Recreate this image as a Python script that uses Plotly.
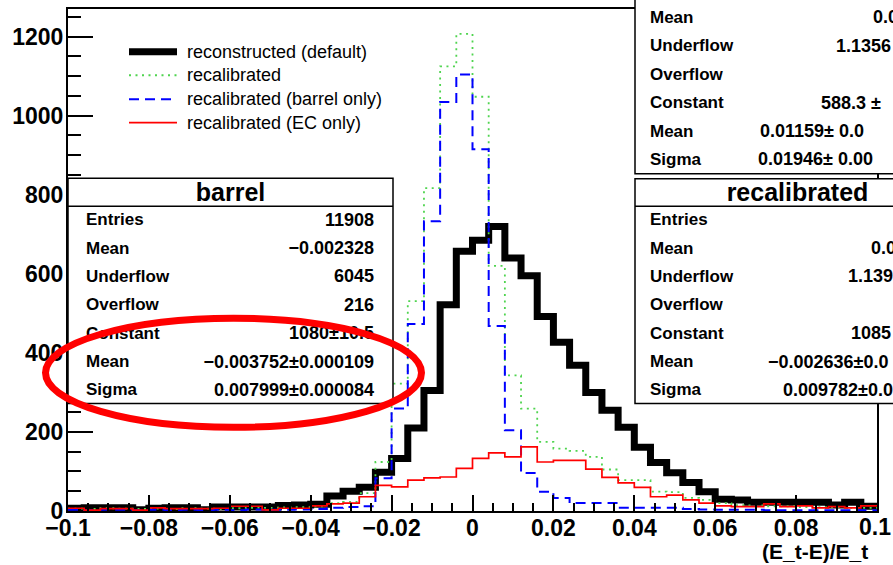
import numpy as np
import plotly.graph_objects as go

# ---------------- data ----------------
bin_low, bin_high, n_bins = -0.1, 0.1, 50

reconstructed = [7, 8, 8, 8, 3, 7, 8, 8, 3, 10,
                 10, 10, 10, 14, 15, 17, 38, 50, 60, 98,
                 133, 210, 305, 522, 657, 685, 720, 640, 595, 492,
                 427, 369, 300, 255, 212, 161, 123, 97, 72, 49,
                 30, 28, 22, 22, 22, 22, 22, 15, 22, 12]
recalibrated = [6, 5, 7, 6, 5, 6, 5, 7, 6, 5,
                7, 8, 8, 9, 10, 12, 20, 23, 45, 124,
                322, 531, 817, 1125, 1207, 1048, 620, 343, 259, 175,
                158, 152, 137, 105, 78, 78, 49, 48, 33, 28,
                20, 15, 14, 12, 12, 10, 10, 9, 8, 8]
recal_barrel = [3, 2, 3, 3, 2, 3, 2, 3, 2, 3,
                2, 4, 3, 3, 4, 5, 8, 10, 12, 83,
                259, 473, 733, 1035, 1104, 915, 468, 204, 96, 49,
                33, 20, 20, 20, 8, 8, 8, 8, 5, 4,
                3, 3, 3, 2, 2, 2, 2, 2, 2, 2]
recal_ec = [7, 2, 6, 6, 2, 8, 6, 6, 6, 7,
            12, 12, 3, 7, 7, 13, 18, 20, 36, 65,
            61, 78, 84, 86, 108, 133, 147, 137, 162, 124,
            128, 128, 106, 85, 71, 60, 36, 40, 28, 20,
            13, 11, 11, 18, 11, 13, 8, 11, 8, 13]

series_names = ["reconstructed (default)", "recalibrated",
                "recalibrated (barrel only)", "recalibrated (EC only)"]

x_tickvals = [-0.1, -0.08, -0.06, -0.04, -0.02, 0, 0.02, 0.04, 0.06, 0.08, 0.1]
x_ticktext = ["\u22120.1", "\u22120.08", "\u22120.06", "\u22120.04", "\u22120.02",
              "0", "0.02", "0.04", "0.06", "0.08", "0.1"]

stat_labels = ["Entries", "Mean", "Underflow", "Overflow", "Constant", "Mean", "Sigma"]
barrel_values = ["11908", "\u22120.002328", "6045", "216", "1080\u00b110.5",
                 "\u22120.003752\u00b10.000109", "0.007999\u00b10.000084"]
# only the parts of these boxes that are visible inside the canvas
recal_values = ["", "0.0", "1.139", "", "1085", "\u22120.002636\u00b10.0", "0.009782\u00b10.0"]
default_values = ["", "0.0", "1.1356", "", "588.3 \u00b1", "0.01159\u00b1 0.0", "0.01946\u00b1 0.00"]

x_title = "(E_t-E)/E_t"

# ---------------- geometry helpers ----------------
W, H = 893, 565
L, R, T, B = 68, 877, 7, 511


def fx(p):
    return (p - L) / (R - L)


def fy(p):
    return (B - p) / (B - T)


FONT = "Liberation Sans"
TICKFONT = dict(family=FONT, size=23, color="black", weight="bold")
edges = np.linspace(bin_low, bin_high, n_bins + 1)

fig = go.Figure()
styles = [
    dict(color="black", width=7, dash="solid"),
    dict(color="#4fd44f", width=1.8, dash="2px,4.5px"),
    dict(color="#0000ff", width=2, dash="10px,6px"),
    dict(color="#ff0000", width=1.7, dash="solid"),
]
for vals, st, nm in zip([reconstructed, recalibrated, recal_barrel, recal_ec], styles, series_names):
    fig.add_trace(go.Scatter(
        x=list(edges), y=list(vals) + [vals[-1]], mode="lines", name=nm,
        line=dict(shape="hv", **st), showlegend=False, hoverinfo="skip"))

shapes = []
annotations = []

# ---- legend (manual) ----
leg_rows = [50, 73.5, 97.7, 121]
for nm, st, yy in zip(series_names, styles, leg_rows):
    shapes.append(dict(type="line", xref="paper", yref="paper",
                       x0=fx(129), x1=fx(177), y0=fy(yy), y1=fy(yy),
                       line=dict(color=st["color"], width=st["width"], dash=st["dash"]),
                       layer="above"))
    annotations.append(dict(x=fx(185), y=fy(yy), xref="paper", yref="paper",
                            text=nm, showarrow=False, xanchor="left", yanchor="middle",
                            font=dict(family=FONT, size=18, color="black")))


def box(x0, y0, x1, y1):
    shapes.append(dict(type="rect", xref="paper", yref="paper",
                       x0=fx(x0), x1=fx(x1), y0=fy(y1), y1=fy(y0),
                       line=dict(color="black", width=1.5), fillcolor="white", layer="above"))


def hline(x0, x1, y):
    shapes.append(dict(type="line", xref="paper", yref="paper",
                       x0=fx(x0), x1=fx(x1), y0=fy(y), y1=fy(y),
                       line=dict(color="black", width=1.5), layer="above"))


LAB_DY = -2.5


def label(x0, x1, yc, text, pos, size, half=11):
    yc = yc + LAB_DY
    shapes.append(dict(type="rect", xref="paper", yref="paper",
                       x0=fx(x0), x1=fx(x1), y0=fy(yc + half), y1=fy(yc - half),
                       line=dict(width=0), fillcolor="rgba(0,0,0,0)", layer="above",
                       label=dict(text=text, textposition=pos, padding=0,
                                  font=dict(family=FONT, size=size, color="black"))))


# ---- top-right box (mostly outside the canvas) ----
box(635, -53, 960, 172.5)
top_rows = [-12.5 + 28.5 * i for i in range(7)]
for lab, yy in zip(stat_labels, top_rows):
    if yy < 0:
        continue
    label(647, 890, yy, "<b>" + lab + "</b>", "middle left", 17)
default_starts = [None, 870, 833, None, 818, 757, 755]
for val, xs, yy in zip(default_values, default_starts, top_rows):
    if val and yy > 0:
        label(xs, 960, yy, "<b>" + val + "</b>", "middle left", 18)

# ---- barrel box ----
box(68, 177, 393, 403)
hline(68, 393, 205)
label(68, 393, 191, "<b>barrel</b>", "middle center", 25, half=13)
rows = [219 + 28.5 * i for i in range(7)]
for lab, val, yy in zip(stat_labels, barrel_values, rows):
    label(83, 377, yy, "<b>" + lab + "</b>", "middle left", 17)
    label(83, 377, yy, "<b>" + val + "</b>", "middle right", 18)

# ---- recalibrated box ----
box(635, 177.5, 960, 403)
hline(635, 960, 205)
label(635, 960, 191, "<b>recalibrated</b>", "middle center", 25, half=13)
recal_starts = [None, 868, 845, None, 848, 765, 780]
for lab, val, xs, yy in zip(stat_labels, recal_values, recal_starts, rows):
    label(647, 890, yy, "<b>" + lab + "</b>", "middle left", 17)
    if val:
        label(xs, 960, yy, "<b>" + val + "</b>", "middle left", 18)

# ---- red hand-drawn ellipse ----
shapes.append(dict(type="circle", xref="paper", yref="paper",
                   x0=fx(45.5), x1=fx(421.5), y0=fy(427), y1=fy(317.5),
                   line=dict(color="#ff0000", width=7), layer="above"))

# ---- last x tick label (kept inside the canvas, as in the original) ----
annotations.append(dict(x=x_tickvals[-1], xref="x", y=fy(527), yref="paper",
                        text=x_ticktext[-1], showarrow=False, xanchor="center",
                        yanchor="middle", xshift=-2, font=TICKFONT))

# ---- x axis title ----
annotations.append(dict(x=fx(870), y=fy(552), xref="paper", yref="paper",
                        text="<b>" + x_title + "</b>", showarrow=False,
                        xanchor="right", yanchor="middle",
                        font=dict(family=FONT, size=21, color="black")))

fig.update_layout(
    width=W, height=H, autosize=False,
    margin=dict(l=L, r=W - R, t=T, b=H - B, pad=0),
    paper_bgcolor="white", plot_bgcolor="white",
    showlegend=False,
    shapes=shapes, annotations=annotations,
    xaxis=dict(range=[bin_low, bin_high], tickmode="array",
               tickvals=x_tickvals[:-1], ticktext=x_ticktext[:-1],
               ticks="inside", ticklen=16, tickwidth=1.7, tickcolor="black",
               minor=dict(dtick=0.005, tick0=0, ticks="inside", ticklen=8, tickwidth=1.7,
                          tickcolor="black"),
               showline=True, linecolor="black", linewidth=2, mirror=True,
               showgrid=False, zeroline=False, ticklabelstandoff=-5,
               tickfont=TICKFONT),
    yaxis=dict(range=[0, 1270], tick0=0, dtick=200,
               ticks="inside", ticklen=25, tickwidth=1.7, tickcolor="black",
               minor=dict(dtick=50, ticks="inside", ticklen=13, tickwidth=1.7, tickcolor="black"),
               showline=True, linecolor="black", linewidth=2, mirror=True,
               showgrid=False, zeroline=False, ticklabelstandoff=-2,
               tickfont=TICKFONT),
)

fig.write_html("out.html", config={"displayModeBar": False})
